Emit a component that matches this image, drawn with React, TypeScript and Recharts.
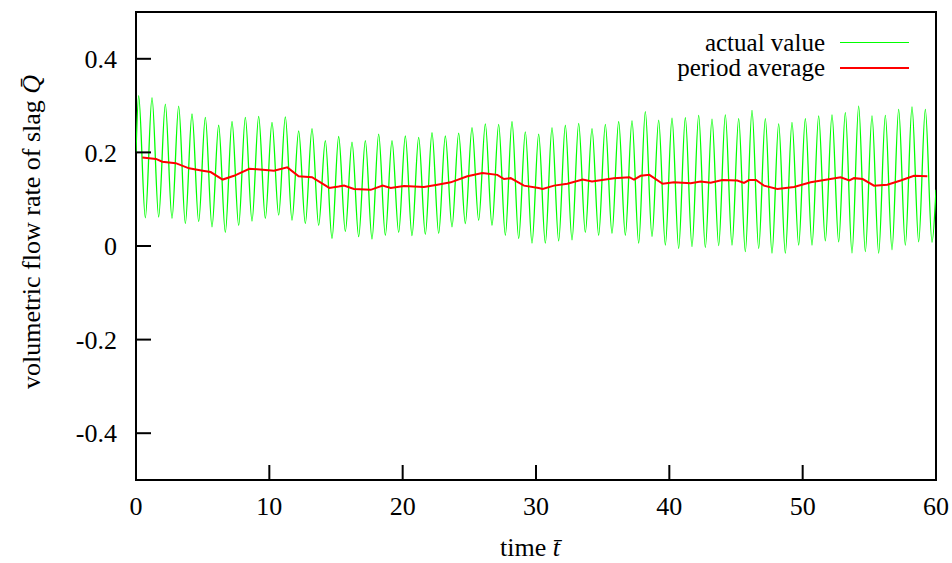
import { Legend, Line, LineChart, ReferenceArea, XAxis, YAxis } from "recharts"

const FONT = "Liberation Serif, Times New Roman, serif"

// actual value: crest of each cycle (t = 0.2, 1.2, ... 59.2)
const peakValues = [
  0.321, 0.317, 0.303, 0.299, 0.282, 0.275, 0.258, 0.266, 0.275, 0.277,
  0.264, 0.276, 0.246, 0.251, 0.225, 0.234, 0.222, 0.225, 0.239, 0.225,
  0.235, 0.232, 0.242, 0.235, 0.241, 0.253, 0.261, 0.26, 0.266, 0.244,
  0.239, 0.253, 0.258, 0.262, 0.251, 0.26, 0.266, 0.268, 0.287, 0.269,
  0.273, 0.274, 0.279, 0.271, 0.28, 0.272, 0.29, 0.272, 0.261, 0.264,
  0.272, 0.278, 0.28, 0.285, 0.299, 0.278, 0.279, 0.292, 0.297, 0.292,
]

// actual value: trough of each cycle (t = 0.7, 1.7, ... 59.7)
const troughValues = [
  0.06, 0.062, 0.059, 0.048, 0.052, 0.041, 0.029, 0.044, 0.053, 0.059,
  0.066, 0.055, 0.048, 0.044, 0.016, 0.031, 0.02, 0.015, 0.023, 0.029,
  0.022, 0.025, 0.027, 0.041, 0.048, 0.055, 0.044, 0.023, 0.016, 0.006,
  0.006, 0.011, 0.013, 0.029, 0.023, 0.027, 0.023, 0.006, 0.02, 0.002,
  -0.005, -0.001, -0.003, 0.001, 0.002, -0.012, -0.005, -0.015, -0.015, 0.002,
  0.002, 0.011, 0.009, -0.015, -0.012, -0.015, -0.008, 0.002, 0.009, 0.008,
]

const startValue = 0.2
const endValue = 0.12

// period average
const avgTimes = [
  0.47, 1.5, 1.97, 2.98, 3.98, 5.0, 5.6, 6.5, 7.35, 8.5, 9.5, 10.35, 11.35,
  12.2, 13.2, 14.5, 15.2, 15.6, 16.35, 17.6, 18.5, 19.1, 20.1, 21.6, 22.6,
  23.6, 24.85, 25.98, 27.1, 27.6, 28.1, 29.1, 30.2, 30.5, 31.35, 32.35, 33.5,
  34.2, 35.85, 37.0, 37.35, 37.85, 38.5, 39.5, 40.35, 41.6, 42.35, 43.1,
  43.98, 45.1, 45.6, 45.98, 46.5, 47.1, 48.1, 49.35, 50.6, 51.85, 52.85,
  53.5, 53.85, 54.5, 55.35, 56.35, 57.35, 58.35, 59.35,
]
const avgValues = [
  0.189, 0.186, 0.18, 0.177, 0.166, 0.161, 0.158, 0.142, 0.15, 0.165, 0.163,
  0.161, 0.168, 0.149, 0.147, 0.124, 0.127, 0.129, 0.122, 0.12, 0.129, 0.124,
  0.128, 0.126, 0.131, 0.136, 0.149, 0.156, 0.152, 0.143, 0.145, 0.129, 0.124,
  0.122, 0.129, 0.133, 0.142, 0.138, 0.145, 0.147, 0.142, 0.15, 0.152, 0.133,
  0.136, 0.134, 0.138, 0.135, 0.141, 0.14, 0.135, 0.141, 0.141, 0.129, 0.122,
  0.126, 0.136, 0.142, 0.147, 0.14, 0.145, 0.143, 0.129, 0.131, 0.14, 0.15,
  0.149,
]

const xTicks = [0, 10, 20, 30, 40, 50, 60]
const yTicks = [-0.4, -0.2, 0, 0.2, 0.4]
const yTickLabels = ["-0.4", "-0.2", "0", "0.2", "0.4"]

const legendItems = [
  { label: "actual value", color: "#00ff00", width: 1.5 },
  { label: "period average", color: "#ff0000", width: 2 },
]

const actualData: { t: number; v: number }[] = [{ t: 0, v: startValue }]
peakValues.forEach((p, i) => {
  actualData.push({ t: i + 0.2, v: p })
  actualData.push({ t: i + 0.7, v: troughValues[i] })
})
actualData.push({ t: 60, v: endValue })

const avgData = avgTimes.map((t, i) => ({ t, v: avgValues[i] }))

function XTick({ x, y, payload }: any) {
  return (
    <g>
      <line x1={x} y1={y} x2={x} y2={y - 15} stroke="#000" strokeWidth={2} />
      <text x={x} y={y + 35} textAnchor="middle" fontFamily="Liberation Serif" fontSize={26} fill="#000">
        {payload.value}
      </text>
    </g>
  )
}

function YTick({ x, y, payload }: any) {
  const i = yTicks.indexOf(payload.value)
  return (
    <g>
      <line x1={x} y1={y} x2={x + 15} y2={y} stroke="#000" strokeWidth={2} />
      <text x={x - 19} y={y} dy="0.35em" textAnchor="end" fontFamily="Liberation Serif" fontSize={26} fill="#000">
        {i >= 0 ? yTickLabels[i] : payload.value}
      </text>
    </g>
  )
}

function YLabel() {
  return (
    <text
      x={40}
      y={232}
      transform="rotate(-90, 40, 232)"
      textAnchor="middle"
      fontFamily="Liberation Serif"
      fontSize={26}
      fill="#000"
    >
      volumetric flow rate of slag <tspan fontStyle="italic">Q{"\u0304"}</tspan>
    </text>
  )
}

function XLabel() {
  return (
    <text x={530} y={556} textAnchor="middle" fontFamily="Liberation Serif" fontSize={26} fill="#000">
      time <tspan fontStyle="italic">t{"\u0304"}</tspan>
    </text>
  )
}

function LegendBox() {
  return (
    <div style={{ fontFamily: FONT, fontSize: 25, lineHeight: "25px", color: "#000" }}>
      {legendItems.map((it) => (
        <div
          key={it.label}
          style={{ display: "flex", alignItems: "center", justifyContent: "flex-end", height: 25 }}
        >
          <span>{it.label}</span>
          <span
            style={{
              display: "inline-block",
              width: 69,
              marginLeft: 15,
              borderTop: `${it.width}px solid ${it.color}`,
            }}
          />
        </div>
      ))}
    </div>
  )
}

export default function App() {
  return (
    <div style={{ position: "absolute", left: 0, top: 0, background: "#fff", fontFamily: FONT }}>
      <LineChart width={952} height={563} margin={{ top: 12, right: 16, bottom: 0, left: 0 }}>
        <XAxis
          dataKey="t"
          type="number"
          domain={[0, 60]}
          ticks={xTicks}
          interval={0}
          height={83}
          axisLine={false}
          tickLine={false}
          tickSize={0}
          tickMargin={0}
          tick={<XTick />}
          allowDataOverflow
          label={<XLabel />}
        />
        <YAxis
          type="number"
          domain={[-0.5, 0.5]}
          ticks={yTicks}
          interval={0}
          width={136}
          axisLine={false}
          tickLine={false}
          tickSize={0}
          tickMargin={0}
          tick={<YTick />}
          allowDataOverflow
          label={<YLabel />}
        />
        <ReferenceArea
          x1={0}
          x2={60}
          y1={-0.5}
          y2={0.5}
          fill="none"
          fillOpacity={0}
          stroke="#000"
          strokeWidth={2}
        />
        <Line
          data={actualData}
          dataKey="v"
          type="monotone"
          stroke="#00ff00"
          strokeWidth={1.3}
          dot={false}
          activeDot={false}
          isAnimationActive={false}
        />
        <Line
          data={avgData}
          dataKey="v"
          type="linear"
          stroke="#ff0000"
          strokeWidth={2}
          dot={false}
          activeDot={false}
          isAnimationActive={false}
        />
        <Legend
          layout="vertical"
          align="center"
          verticalAlign="middle"
          content={<LegendBox />}
          wrapperStyle={{ position: "absolute", top: 30, left: 0, width: 909 }}
        />
      </LineChart>
    </div>
  )
}
